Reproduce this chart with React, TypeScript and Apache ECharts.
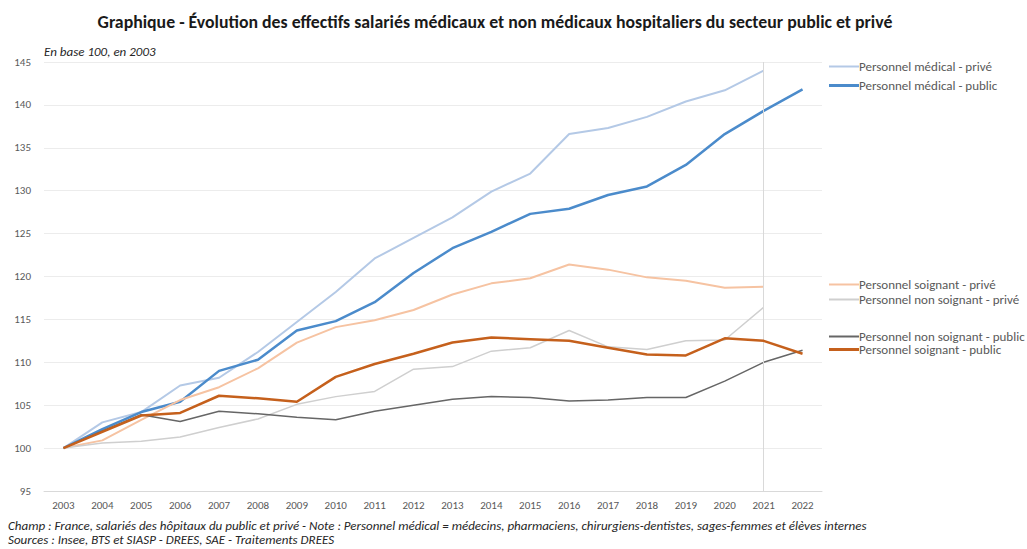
import React, { useEffect, useRef } from "react";
import * as echarts from "echarts";

const years = ["2003","2004","2005","2006","2007","2008","2009","2010","2011","2012","2013","2014","2015","2016","2017","2018","2019","2020","2021","2022"];

const medicalPrive = [100, 103.0, 104.2, 107.3, 108.2, 111.2, 114.7, 118.2, 122.1, 124.5, 126.9, 129.9, 132.0, 136.6, 137.3, 138.6, 140.4, 141.7, 144.0, null];
const medicalPublic = [100, 102.2, 104.2, 105.4, 109.0, 110.3, 113.7, 114.8, 117.0, 120.4, 123.3, 125.2, 127.3, 127.9, 129.5, 130.5, 133.0, 136.6, 139.3, 141.8];
const soignantPrive = [100, 100.9, 103.3, 105.6, 107.1, 109.3, 112.3, 114.1, 114.9, 116.1, 117.9, 119.2, 119.8, 121.4, 120.8, 119.9, 119.5, 118.7, 118.8, null];
const nonSoignantPrive = [100, 100.6, 100.8, 101.3, 102.4, 103.4, 105.1, 106.0, 106.6, 109.2, 109.5, 111.3, 111.7, 113.7, 111.8, 111.5, 112.5, 112.6, 116.4, null];
const nonSoignantPublic = [100, 102.0, 103.9, 103.1, 104.3, 104.0, 103.6, 103.3, 104.3, 105.0, 105.7, 106.0, 105.9, 105.5, 105.6, 105.9, 105.9, 107.8, 110.0, 111.4];
const soignantPublic = [100, 101.9, 103.8, 104.1, 106.1, 105.8, 105.4, 108.3, 109.8, 111.0, 112.3, 112.9, 112.7, 112.5, 111.7, 110.9, 110.8, 112.8, 112.5, 111.0];

const yTicks = { min: 95, max: 145, interval: 5 };

const FONT = "Carlito, 'Liberation Sans Narrow', 'Open Sans', sans-serif";

export default function App() {
  const ref = useRef<HTMLDivElement>(null);
  useEffect(() => {
    if (!ref.current) return;
    const chart = echarts.init(ref.current, undefined, { renderer: "svg" });
    const seriesDefs = [
      { name: "Personnel médical - privé", data: medicalPrive, color: "#b4c9e6", width: 2 },
      { name: "Personnel médical - public", data: medicalPublic, color: "#4b8bcb", width: 2.5 },
      { name: "Personnel soignant - privé", data: soignantPrive, color: "#f6c3a2", width: 2 },
      { name: "Personnel non soignant - privé", data: nonSoignantPrive, color: "#cfcfcf", width: 1.5 },
      { name: "Personnel non soignant - public", data: nonSoignantPublic, color: "#666666", width: 1.5 },
      { name: "Personnel soignant - public", data: soignantPublic, color: "#c5601c", width: 2.5 },
    ];
    const legendTops = [60, 79, 278, 293, 330, 343];
    const series: any[] = seriesDefs.map((s, i) => ({
      name: s.name,
      type: "line",
      data: s.data,
      showSymbol: false,
      symbol: "none",
      lineStyle: { color: s.color, width: s.width },
      itemStyle: { color: s.color },
      z: i === 5 ? 5 : 3,
      markLine: i === 0 ? {
        silent: true,
        symbol: "none",
        label: { show: false },
        lineStyle: { color: "#d9d9d9", width: 1, type: "solid" },
        data: [{ xAxis: "2021" }],
      } : undefined,
    }));
    const legends = seriesDefs.map((s, i) => ({
      data: [s.name],
      left: 829,
      top: legendTops[i],
      padding: 0,
      orient: "vertical",
      icon: "rect",
      itemWidth: 30,
      itemHeight: s.width >= 2.5 ? 3 : 2,
      itemGap: 2,
      textStyle: { fontFamily: FONT, fontSize: 13, color: "#595959", padding: [0, 0, 0, -5] },
      selectedMode: false,
    }));
    chart.setOption({
      animation: false,
      backgroundColor: "#ffffff",
      title: {
        text: "Graphique - Évolution des effectifs salariés médicaux et non médicaux hospitaliers du secteur public et privé",
        left: 490,
        top: 8,
        textAlign: "center",
        textStyle: { fontFamily: FONT, fontSize: 17.8, fontWeight: "bold", color: "#1a1a1a" },
      },
      legend: legends,
      grid: { left: 44, width: 778, top: 62, height: 429, containLabel: false },
      xAxis: {
        type: "category",
        data: years,
        boundaryGap: true,
        axisLine: { lineStyle: { color: "#d9d9d9" } },
        axisTick: { show: false },
        axisLabel: { fontFamily: FONT, fontSize: 11, color: "#595959", margin: 9 },
      },
      yAxis: {
        type: "value",
        min: yTicks.min,
        max: yTicks.max,
        interval: yTicks.interval,
        axisLine: { show: false },
        axisTick: { show: false },
        axisLabel: { fontFamily: FONT, fontSize: 11, color: "#595959", margin: 13 },
        splitLine: { lineStyle: { color: "#ececec" } },
      },
      graphic: [
        { type: "text", left: 44, top: 45, style: { text: "En base 100, en 2003", font: `italic 13px ${FONT}`, fill: "#262626" } },
        { type: "text", left: 8, top: 519, style: { text: "Champ : France, salariés des hôpitaux du public et privé - Note : Personnel médical = médecins, pharmaciens, chirurgiens-dentistes, sages-femmes et élèves internes", font: `italic 13px ${FONT}`, fill: "#262626" } },
        { type: "text", left: 8, top: 533, style: { text: "Sources : Insee, BTS et SIASP - DREES, SAE - Traitements DREES", font: `italic 13px ${FONT}`, fill: "#262626" } },
      ],
      series,
    });
    return () => chart.dispose();
  }, []);
  return <div ref={ref} style={{ width: 1027, height: 549, position: "absolute", left: 0, top: 0 }} />;
}
